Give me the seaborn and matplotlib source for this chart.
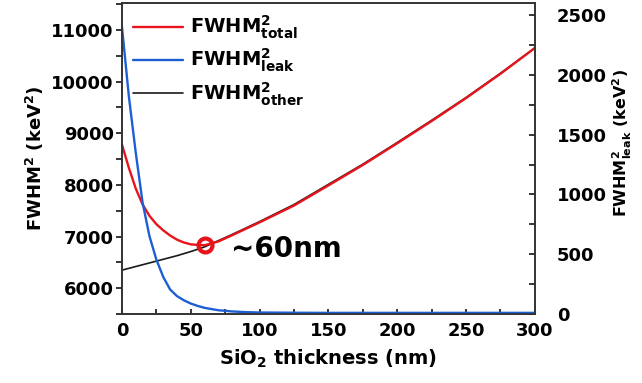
import numpy as np
import pandas as pd
import seaborn as sns
import matplotlib.pyplot as plt
from matplotlib.ticker import MultipleLocator

# SiO2 thickness (nm) and the three curves
thickness = [0, 5, 10, 15, 20, 25, 30, 35, 40, 45, 50, 55, 60, 70, 80, 90, 100,
             125, 150, 175, 200, 225, 250, 275, 300]
fwhm_total = [8780, 8330, 7930, 7620, 7400, 7240, 7120, 7020, 6940, 6885, 6850, 6838, 6832,
              6905, 7025, 7150, 7275, 7600, 7990, 8385, 8805, 9235, 9680, 10150, 10650]
fwhm_other = [6350, 6385, 6420, 6455, 6490, 6525, 6560, 6595, 6630, 6670, 6710, 6755, 6800,
              6920, 7040, 7165, 7290, 7620, 8010, 8400, 8820, 9250, 9690, 10160, 10650]
fwhm_leak = [2400, 1820, 1350, 930, 650, 455, 310, 205, 150, 115, 88, 68, 52,
             32, 22, 16, 13, 11, 10, 10, 10, 10, 10, 10, 10]

df = pd.DataFrame({"thickness": thickness, "total": fwhm_total,
                   "other": fwhm_other, "leak": fwhm_leak})

sns.set_style("ticks")
plt.rcParams['font.family'] = ['DejaVu Sans']
plt.rcParams['font.weight'] = 'bold'
plt.rcParams['mathtext.fontset'] = 'dejavusans'
plt.rcParams['mathtext.default'] = 'bf'
plt.rcParams['text.color'] = 'black'
plt.rcParams['axes.labelcolor'] = 'black'
plt.rcParams['xtick.color'] = 'black'
plt.rcParams['ytick.color'] = 'black'

red = "#e8141c"
blue = "#1d5fd3"
black = "#1a1a1a"

fig, ax = plt.subplots(figsize=(6.42, 3.83), dpi=100)
fig.subplots_adjust(left=0.19, right=0.833, top=0.992, bottom=0.18)
ax2 = ax.twinx()

sns.lineplot(data=df, x="thickness", y="other", ax=ax, color=black, lw=1.2,
             label="FWHM$^2_{other}$")
sns.lineplot(data=df, x="thickness", y="total", ax=ax, color=red, lw=1.7,
             label="FWHM$^2_{total}$")
sns.lineplot(data=df, x="thickness", y="leak", ax=ax2, color=blue, lw=1.7,
             label="FWHM$^2_{leak}$")

# minimum of total curve
i = int(np.argmin(fwhm_total))
ax.plot(thickness[i], fwhm_total[i], 'o', ms=10, mfc='none', mec=red, mew=3, zorder=5)
ax.annotate("~60nm", xy=(thickness[i], fwhm_total[i]), xytext=(19, -3),
            textcoords='offset points', fontsize=20, fontweight='bold',
            va='center', ha='left')

ax.set_xlim(0, 300)
ax.set_ylim(5500, 11520)
ax2.set_ylim(0, 2600)

ax.xaxis.set_major_locator(MultipleLocator(50))
ax.xaxis.set_minor_locator(MultipleLocator(25))
ax.yaxis.set_major_locator(MultipleLocator(1000))
ax.yaxis.set_minor_locator(MultipleLocator(500))
ax2.yaxis.set_major_locator(MultipleLocator(500))
ax2.yaxis.set_minor_locator(MultipleLocator(250))

ax.tick_params(axis='x', which='both', direction='in', length=3.5, width=1.1, pad=6, labelsize=13)
ax.tick_params(axis='y', which='both', direction='out', length=4, width=1.1, pad=2, labelsize=13)
ax2.tick_params(axis='y', which='both', direction='in', length=4, width=1.1, pad=16, labelsize=13)

for a in (ax, ax2):
    for s in a.spines.values():
        s.set_linewidth(1.2)
        s.set_color("#333333")

ax.set_xlabel("SiO$_2$ thickness (nm)", fontsize=14, fontweight='bold', labelpad=5)
ax.set_ylabel("FWHM$^2$ (keV$^2$)", fontsize=13, fontweight='bold', labelpad=4)
ax2.set_ylabel("FWHM$^2_{leak}$ (keV$^2$)", fontsize=11.5, fontweight='bold')
ax2.yaxis.set_label_coords(1.185, 0.55)

# legend: total, leak, other
h1, l1 = ax.get_legend_handles_labels()
h2, l2 = ax2.get_legend_handles_labels()
ax.get_legend().remove()
ax2.get_legend().remove()
handles = [h1[1], h2[0], h1[0]]
labels = [l1[1], l2[0], l1[0]]
ax2.legend(handles, labels, loc='upper left', frameon=False,
           prop={'weight': 'bold', 'size': 14},
           handlelength=2.6, handletextpad=0.35, labelspacing=0.3,
           borderaxespad=0.25, borderpad=0.3)

fig.savefig("out.png", dpi=100)
